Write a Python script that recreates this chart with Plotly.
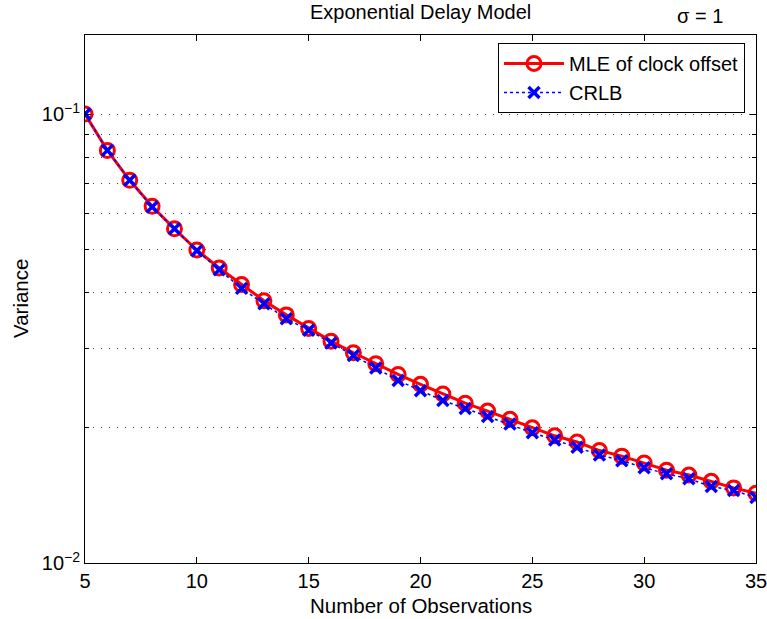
import math
import plotly.graph_objects as go

n_obs = list(range(5, 36))
mle_var = [0.1000, 0.0830, 0.0712, 0.0623, 0.0555, 0.0498, 0.0454, 0.0417, 0.0384, 0.0357,
           0.0333, 0.0312, 0.0294, 0.0278, 0.0263, 0.0250, 0.0238, 0.0227, 0.0218, 0.0209,
           0.0200, 0.0192, 0.0186, 0.0178, 0.0173, 0.0167, 0.0161, 0.0157, 0.0152, 0.0147,
           0.0143]
crlb_var = [0.1000, 0.0830, 0.0712, 0.0621, 0.0555, 0.0496, 0.0450, 0.0409, 0.0378, 0.0350,
            0.0330, 0.0309, 0.0290, 0.0272, 0.0255, 0.0242, 0.0230, 0.0221, 0.0212, 0.0204,
            0.0195, 0.0188, 0.0181, 0.0174, 0.0169, 0.0163, 0.0158, 0.0154, 0.0148, 0.0145,
            0.0140]
x_ticks = [5, 10, 15, 20, 25, 30, 35]
y_major = [0.01, 0.1]
y_major_text = ["10<sup>−2</sup>", "10<sup>−1</sup>"]
y_minor = [0.02, 0.03, 0.04, 0.05, 0.06, 0.07, 0.08, 0.09]
y_limits = [0.01, 0.15]

FONT = "Liberation Sans, Arial, sans-serif"

fig = go.Figure()
fig.add_trace(go.Scatter(
    x=n_obs, y=mle_var, name="MLE of clock offset", mode="lines+markers",
    line=dict(color="#ff0000", width=3),
    marker=dict(symbol="circle-open", size=14, color="#ff0000", line=dict(width=3, color="#ff0000")),
))
fig.add_trace(go.Scatter(
    x=n_obs, y=crlb_var, name="CRLB", mode="lines+markers",
    line=dict(color="#0000ff", width=1.5, dash="dot"),
    marker=dict(symbol="x-thin-open", size=11, color="#0000ff", line=dict(width=3.5, color="#0000ff")),
))

fig.update_layout(
    width=767, height=619,
    margin=dict(l=85, r=11, t=35, b=56, autoexpand=False),
    paper_bgcolor="white", plot_bgcolor="white",
    font=dict(family=FONT, size=20, color="black"),
    showlegend=True,
    legend=dict(
        x=0.9836, xanchor="right", y=0.985, yanchor="top",
        bgcolor="white", bordercolor="black", borderwidth=1,
        font=dict(family=FONT, size=20, color="black"),
        itemwidth=60, tracegroupgap=0,
    ),
    xaxis=dict(
        range=[5, 35], tickmode="array", tickvals=x_ticks,
        showgrid=False, zeroline=False, automargin=False,
        showline=True, linecolor="black", linewidth=1, mirror="ticks",
        ticks="inside", ticklen=6, tickcolor="black",
        ticklabeloverflow="allow",
        tickfont=dict(family=FONT, size=20, color="black"),
    ),
    yaxis=dict(
        type="log", range=[math.log10(y_limits[0]), math.log10(y_limits[1])],
        tickmode="array", tickvals=y_major, ticktext=y_major_text,
        showgrid=True, gridcolor="#444444", gridwidth=1, griddash="1px,7px",
        zeroline=False, automargin=False,
        showline=True, linecolor="black", linewidth=1, mirror="ticks",
        ticks="inside", ticklen=6, tickcolor="black",
        ticklabeloverflow="allow",
        tickfont=dict(family=FONT, size=20, color="black"),
        minor=dict(tickmode="array", tickvals=y_minor, ticks="inside", ticklen=4,
                   tickcolor="black", showgrid=True, gridcolor="#444444",
                   gridwidth=1, griddash="1px,7px"),
    ),
    annotations=[
        dict(text="Exponential Delay Model", xref="paper", yref="paper", x=0.5, y=1,
             xanchor="center", yanchor="middle", yshift=23, showarrow=False,
             font=dict(family=FONT, size=20, color="black")),
        dict(text="σ = 1", xref="paper", yref="paper", x=0.954, y=1,
             xanchor="right", yanchor="middle", yshift=19, showarrow=False,
             font=dict(family=FONT, size=20, color="black")),
        dict(text="Number of Observations", xref="paper", yref="paper", x=0.5, y=0,
             xanchor="center", yanchor="middle", yshift=-42, showarrow=False,
             font=dict(family=FONT, size=20.5, color="black")),
        dict(text="Variance", xref="paper", yref="paper", x=0, y=0.5,
             xanchor="center", yanchor="middle", xshift=-65, textangle=-90, showarrow=False,
             font=dict(family=FONT, size=20.5, color="black")),
    ],
)

fig.write_html("out.html")
